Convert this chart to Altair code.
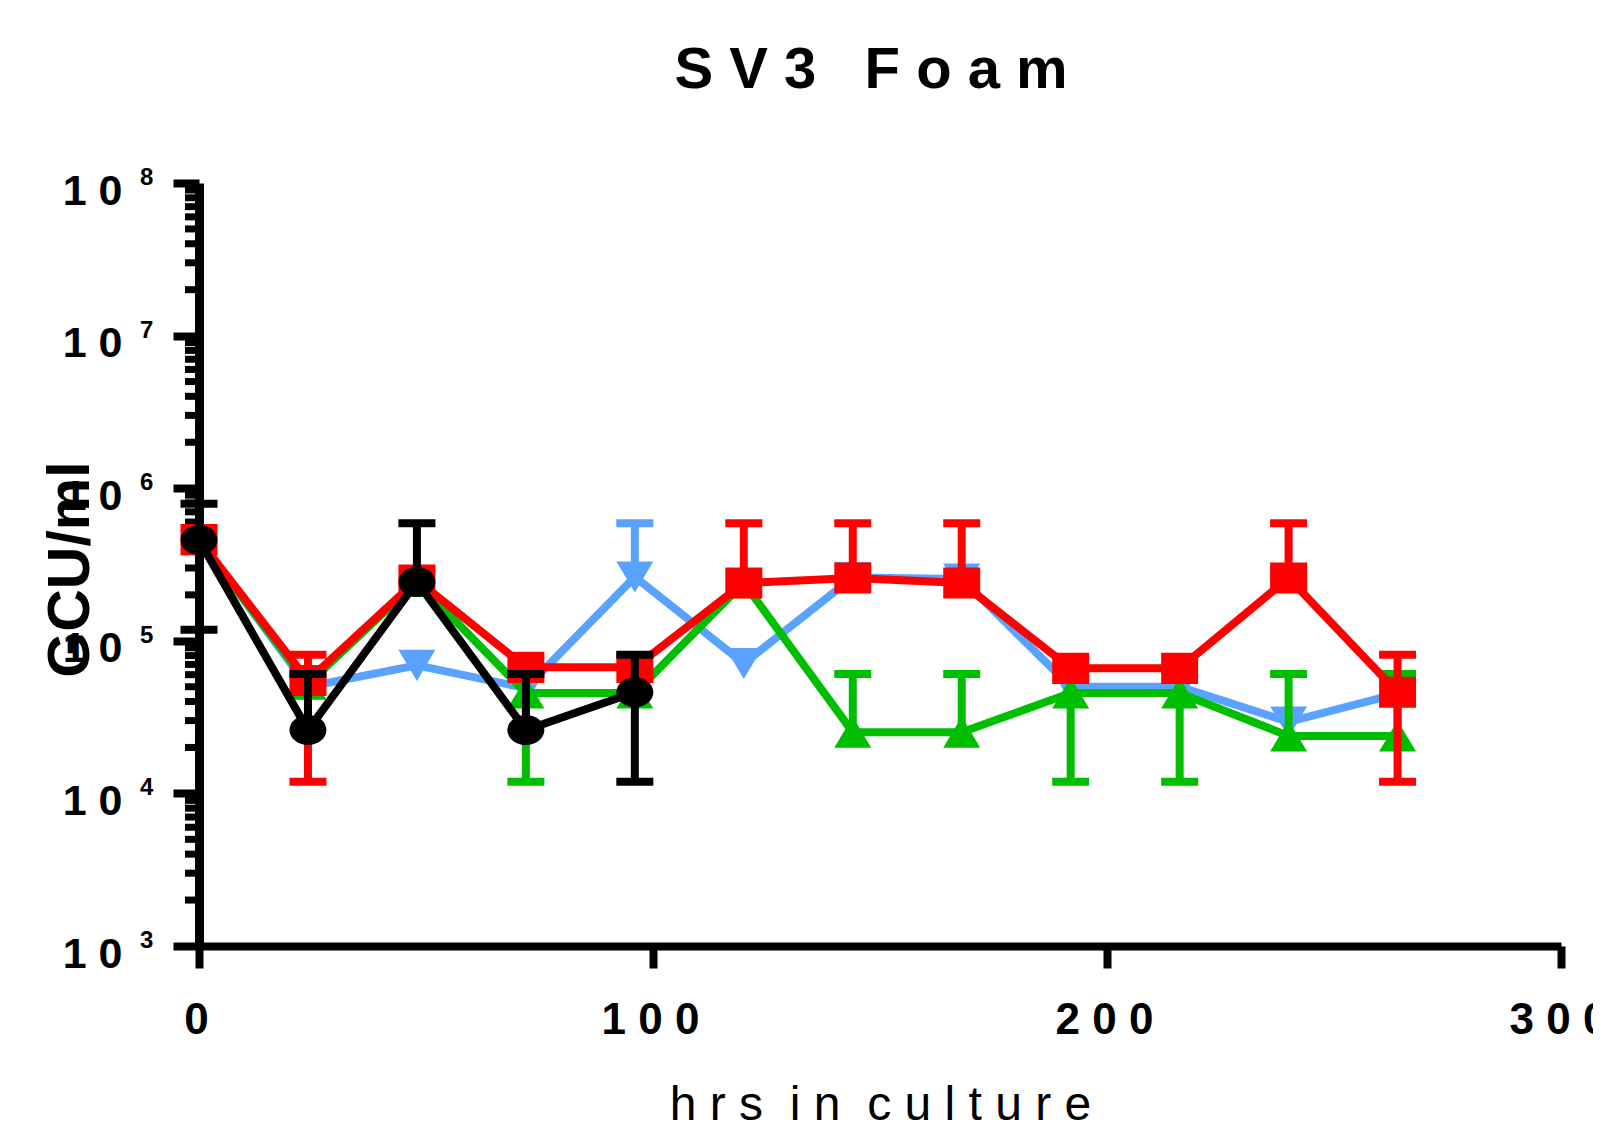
import altair as alt
import pandas as pd

# ---------------- data ----------------
hrs = [0, 24, 48, 72, 96, 120, 144, 168, 192, 216, 240, 264]

blue_mean = [4.6e5, 5.0e4, 6.9e4, 4.9e4, 2.62e5, 7.1e4, 2.6e5, 2.54e5, 5.0e4, 5.0e4, 2.94e4, 4.5e4]
blue_hi = [None, None, None, None, 5.9e5, None, None, None, None, None, None, None]
blue_lo = [None] * 12

green_mean = [4.6e5, 5.2e4, 2.45e5, 4.55e4, 4.55e4, 2.4e5, 2.52e4, 2.52e4, 4.55e4, 4.55e4, 2.38e4, 2.38e4]
green_hi = [None, None, None, None, None, None, 6.05e4, 6.05e4, None, None, 6.05e4, 6.05e4]
green_lo = [None, None, None, 1.19e4, None, None, None, None, 1.19e4, 1.19e4, None, None]

red_mean = [4.6e5, 5.5e4, 2.5e5, 6.7e4, 6.7e4, 2.39e5, 2.58e5, 2.39e5, 6.6e4, 6.6e4, 2.58e5, 4.6e4]
red_hi = [None, 8.1e4, None, None, None, 5.9e5, 5.9e5, 5.9e5, None, None, 5.9e5, 8.1e4]
red_lo = [None, 1.19e4, None, None, None, None, None, None, None, None, None, 1.19e4]

black_hrs = [0, 24, 48, 72, 96]
black_mean = [4.58e5, 2.6e4, 2.43e5, 2.6e4, 4.6e4]
black_hi = [7.9e5, 6.05e4, 5.9e5, 6.05e4, 8.1e4]
black_lo = [1.18e5, None, None, None, 1.19e4]

y_decades = [1e3, 1e4, 1e5, 1e6, 1e7, 1e8]
y_exponents = ["3", "4", "5", "6", "7", "8"]
x_ticks = [0, 100, 200, 300]

NB = "\u00a0"
chart_title = "S V 3 " + NB + NB + "F o a m"
x_title = "h r s " + NB + "i n " + NB + "c u l t u r e"
y_title = "GCU/ml"

series_order = ["blue", "green", "red", "black"]
colors = {"blue": "#5AA2FF", "green": "#00BE00", "red": "#FF0000", "black": "#000000"}
shapes = {
    "blue": "M-1,-0.84L1,-0.84L0,0.84Z",
    "green": "M0,-0.84L1,0.84L-1,0.84Z",
    "red": "M-1,-0.84L1,-0.84L1,0.84L-1,0.84Z",
    "black": "M-1,0A1,0.81,0,1,0,1,0A1,0.81,0,1,0,-1,0Z",
}

raw = {
    "blue": (hrs, blue_mean, blue_lo, blue_hi),
    "green": (hrs, green_mean, green_lo, green_hi),
    "red": (hrs, red_mean, red_lo, red_hi),
    "black": (black_hrs, black_mean, black_lo, black_hi),
}

pts, errs, caps = [], [], []
for s, (xs, ms, los, his) in raw.items():
    for x, m, lo, hi in zip(xs, ms, los, his):
        pts.append({"series": s, "hrs": x, "value": m})
        if lo is not None or hi is not None:
            errs.append({"series": s, "hrs": x,
                         "y1": lo if lo is not None else m,
                         "y2": hi if hi is not None else m})
        for c in (lo, hi):
            if c is not None:
                caps.append({"series": s, "hrs": x, "cap": c})

pts_df = pd.DataFrame(pts)
err_df = pd.DataFrame(errs)
cap_df = pd.DataFrame(caps)

minor_vals = [m * 10 ** e for e in range(3, 8) for m in range(2, 10)]
minor_df = pd.DataFrame({"v": minor_vals})
sup_df = pd.DataFrame({"v": y_decades, "e": y_exponents})

FONT = "Liberation Sans"
LW = 8

xscale = alt.Scale(domain=[0, 300], nice=False)
yscale = alt.Scale(type="log", domain=[1e3, 1e8], nice=False)

x_axis = alt.Axis(
    values=x_ticks, grid=False, domainWidth=8, domainColor="black",
    tickWidth=8, tickSize=22, tickColor="black",
    labelFont=FONT, labelFontSize=44, labelFontWeight="bold", labelColor="black",
    labelPadding=65, labelBaseline="alphabetic", labelFlush=False, labelOverlap=False,
    labelBound=False, labelExpr="join(split(datum.label, ''), ' ')", labelOffset=-3,
    title=x_title, titleFont=FONT, titleFontSize=48,
    titleFontWeight="normal", titleColor="black", titleY=173, titleBaseline="alphabetic",
)
y_axis = alt.Axis(
    values=y_decades, grid=False, domainWidth=9, domainColor="black",
    tickWidth=8, tickSize=26, tickColor="black",
    labelFont=FONT, labelFontSize=43, labelFontWeight="bold", labelColor="black",
    labelPadding=51, labelBaseline="alphabetic", labelOffset=21, labelFlush=False,
    labelOverlap=False, labelBound=False, labelExpr="'1 0'",
    title=y_title, titleFont=FONT, titleFontSize=59, titleFontWeight="bold",
    titleColor="black", titleX=-111, titleY=386, titleAngle=270,
    titleBaseline="alphabetic", titleAlign="center",
)

layers = []

# axes carrier + minor ticks
minor = alt.Chart(minor_df).mark_rule(color="black", strokeWidth=7).encode(
    y=alt.Y("v:Q", scale=yscale, axis=y_axis),
    x=alt.value(-14), x2=alt.value(0),
)
layers.append(minor)

sup = alt.Chart(sup_df).mark_text(
    font=FONT, fontSize=24, fontWeight="bold", align="left", baseline="alphabetic",
    dy=2, color="black",
).encode(y=alt.Y("v:Q", scale=yscale), x=alt.value(-59), text="e:N")
layers.append(sup)

X = alt.X("hrs:Q", scale=xscale, axis=x_axis)

for s in series_order:
    c = colors[s]
    line = alt.Chart(pts_df).transform_filter(alt.datum.series == s).mark_line(
        color=c, strokeWidth=LW
    ).encode(x=X, y=alt.Y("value:Q", scale=yscale))
    layers.append(line)
    if (err_df.series == s).any():
        stem = alt.Chart(err_df).transform_filter(alt.datum.series == s).mark_rule(
            color=c, strokeWidth=LW
        ).encode(x=X, y=alt.Y("y1:Q", scale=yscale), y2="y2:Q")
        cap = alt.Chart(cap_df).transform_filter(alt.datum.series == s).mark_tick(
            color=c, orient="horizontal", size=37, thickness=LW, opacity=1
        ).encode(x=X, y=alt.Y("cap:Q", scale=yscale))
        layers += [stem, cap]
    pt = alt.Chart(pts_df).transform_filter(alt.datum.series == s).mark_point(
        shape=shapes[s], filled=True, size=1369, color=c, opacity=1, strokeWidth=0
    ).encode(x=X, y=alt.Y("value:Q", scale=yscale))
    layers.append(pt)

chart = alt.layer(*layers).properties(
    width=1362, height=763,
    title=alt.TitleParams(
        chart_title, font=FONT, fontSize=58, fontWeight="bold", color="black",
        anchor="middle", offset=20, baseline="alphabetic", dx=-9,
    ),
    autosize=alt.AutoSizeParams(type="none"),
    padding={"left": 191, "top": 175, "right": 32, "bottom": 182},
    background="white",
).configure_view(strokeWidth=0, stroke="transparent")

chart.save("out.html", embed_options={"renderer": "svg", "actions": False})
